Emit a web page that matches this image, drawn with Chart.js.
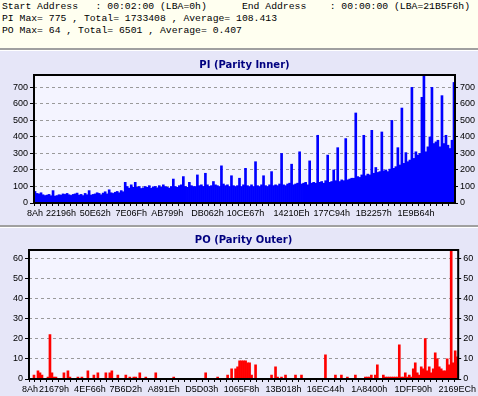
<!DOCTYPE html>
<html>
<head>
<meta charset="utf-8">
<script src="https://cdn.jsdelivr.net/npm/chart.js@4.4.1/dist/chart.umd.min.js"></script>
<style>
html, body { margin: 0; padding: 0; }
body { width: 478px; height: 396px; overflow: hidden; background: #E6E6F8; position: relative; }
#info { position: absolute; left: 0; top: 0; width: 478px; height: 48px; background: #FFFFF0; }
#info pre { margin: 0; position: absolute; left: 2px; top: 1px; font-family: "Liberation Mono", monospace; font-size: 9.75px; line-height: 12px; color: #000; }
.sep { position: absolute; left: 0; width: 478px; height: 2px; background: #A0A0A0; border-bottom: 1px solid #FFFFFF; }
canvas { position: absolute; left: 0; }
</style>
</head>
<body>
<div id="info"><pre>Start Address   : 00:02:00 (LBA=0h)      End Address    : 00:00:00 (LBA=21B5F6h)
PI Max= 775 , Total= 1733408 , Average= 108.413
PO Max= 64 , Total= 6501 , Average= 0.407</pre></div>
<div class="sep" style="top:48px"></div>
<canvas id="piChart" width="478" height="173" style="top:51px"></canvas>
<div class="sep" style="top:225px"></div>
<canvas id="poChart" width="478" height="168" style="top:228px"></canvas>
<script>
// PI error counts, one bar per sample block
var piValues = [
    70, 58, 55, 62, 50, 45, 48, 52, 44, 75,
    42, 45, 50, 48, 55, 52, 58, 50, 46, 52,
    55, 60, 48, 52, 45, 58, 50, 75, 48, 52,
    55, 62, 58, 50, 60, 68, 55, 80, 62, 58,
    65, 70, 62, 75, 68, 125, 100, 90, 110, 95,
    125, 95, 100, 88, 92, 100, 95, 105, 90, 98,
    100, 92, 105, 95, 110, 100, 95, 90, 100, 145,
    100, 95, 105, 110, 160, 100, 95, 125, 105, 100,
    100, 170, 105, 110, 100, 180, 110, 100, 105, 130,
    110, 105, 100, 225, 115, 105, 110, 100, 165, 105,
    100, 105, 150, 100, 110, 210, 105, 100, 110, 100,
    250, 105, 100, 110, 165, 105, 100, 110, 190, 105,
    110, 105, 115, 300, 110, 105, 115, 120, 235, 110,
    115, 120, 310, 115, 120, 125, 110, 255, 120, 125,
    120, 410, 125, 130, 120, 135, 290, 125, 130, 200,
    135, 335, 130, 140, 135, 390, 140, 145, 150, 150,
    545, 160, 155, 170, 410, 165, 175, 170, 440, 180,
    215, 185, 190, 430, 195, 200, 190, 205, 500, 210,
    220, 335, 230, 575, 240, 305, 250, 260, 700, 270,
    310, 290, 300, 640, 775, 310, 340, 400, 700, 360,
    370, 380, 340, 650, 360, 410, 350, 330, 380, 730
];
var piTickLabels = ['8Ah', '22196h', '50E62h', '7E06Fh', 'AB799h', 'DB062h', '10CE67h', '14210Eh', '177C94h', '1B2257h', '1E9B64h'];
var piTickIdx = [0, 13, 30, 48, 66, 86, 105, 128, 148, 169, 190];

// PO error counts
var poValues = [
    0, 0, 2, 0, 4, 3, 2, 0, 0, 1,
    22, 3, 1, 1, 0, 0, 0, 3, 0, 4,
    1, 0, 0, 0, 1, 0, 1, 0, 0, 4,
    0, 0, 2, 0, 3, 0, 0, 0, 3, 0,
    3, 4, 0, 0, 2, 0, 0, 0, 2, 0,
    1, 0, 1, 1, 0, 3, 0, 0, 1, 0,
    0, 0, 0, 3, 0, 0, 0, 0, 0, 0,
    0, 0, 1, 0, 0, 0, 0, 0, 0, 0,
    0, 0, 0, 0, 0, 0, 0, 0, 3, 0,
    0, 0, 0, 0, 1, 0, 0, 0, 0, 2,
    0, 5, 0, 5, 6, 9, 9, 9, 9, 8,
    8, 2, 0, 7, 0, 0, 0, 0, 0, 0,
    0, 2, 0, 6, 1, 0, 1, 0, 2, 0,
    0, 0, 0, 2, 0, 0, 2, 0, 0, 0,
    0, 0, 0, 0, 0, 0, 0, 0, 12, 0,
    0, 0, 0, 2, 0, 0, 2, 0, 0, 1,
    0, 0, 0, 2, 0, 0, 0, 0, 1, 1,
    1, 2, 0, 2, 7, 0, 0, 2, 1, 1,
    1, 1, 1, 1, 1, 17, 1, 1, 3, 1,
    2, 1, 5, 8, 3, 2, 6, 5, 20, 4,
    6, 3, 5, 13, 10, 6, 5, 4, 4, 10,
    7, 64, 8, 14, 11
];
var poTickLabels = ['8Ah', '21679h', '4EF66h', '7B6D2h', 'A891Eh', 'D5D03h', '1065F8h', '13B018h', '16EC44h', '1A8400h', '1DFF90h', '2169ECh'];
var poTickIdx = [0, 12, 30, 48, 67, 86, 106, 127, 148, 170, 192, 214];

Chart.defaults.font.family = '"Liberation Sans", Arial, sans-serif';
Chart.defaults.font.size = 9;
Chart.defaults.color = '#000';

// plot background + black frame round the chart area
const framePlugin = {
    id: 'frame',
    beforeDraw(chart) {
        const a = chart.chartArea, c = chart.ctx;
        c.save();
        c.fillStyle = '#F4F4FF';
        c.fillRect(a.left, a.top, a.right - a.left, a.bottom - a.top);
        c.restore();
    },
    afterDatasetsDraw(chart) {
        const a = chart.chartArea, c = chart.ctx;
        c.save();
        c.strokeStyle = '#000';
        c.lineWidth = 2;
        c.strokeRect(a.left, a.top, a.right - a.left, a.bottom - a.top);
        c.restore();
    }
};

function makeChart(id, values, tickLabels, tickIdx, color, title, yMax, yStep, box) {
    const labels = values.map(function () { return ''; });
    tickIdx.forEach(function (k, j) { labels[k] = tickLabels[j]; });

    return new Chart(id, {
        type: 'bar',
        data: {
            labels: labels,
            datasets: [{
                data: values,
                backgroundColor: color,
                borderWidth: 0,
                barPercentage: 1,
                categoryPercentage: 1,
                yAxisID: 'y'
            }]
        },
        options: {
            responsive: false,
            animation: false,
            plugins: {
                legend: { display: false },
                tooltip: { enabled: false },
                title: {
                    display: true,
                    text: title,
                    fullSize: false,
                    color: '#000080',
                    font: { family: '"DejaVu Sans", Verdana, sans-serif', size: 10, weight: 'bold', lineHeight: 1.2 },
                    padding: { top: box.titleTop, bottom: box.titleBottom }
                }
            },
            scales: {
                x: {
                    afterFit: function (s) { s.height = box.xHeight; },
                    grid: {
                        drawOnChartArea: false,
                        tickLength: 3,
                        tickColor: function (c) { return c.index % 3 === 0 ? '#000' : 'rgba(0,0,0,0)'; }
                    },
                    border: { display: false },
                    ticks: { autoSkip: false, maxRotation: 0, minRotation: 0, padding: 2 }
                },
                y: {
                    position: 'left',
                    min: 0,
                    max: yMax,
                    afterFit: function (s) { s.width = box.left; },
                    grid: {
                        color: function (c) { return c.tick && c.tick.value === 0 ? 'rgba(0,0,0,0)' : '#9A9A9A'; },
                        tickColor: '#000',
                        tickLength: 4
                    },
                    border: { display: false, dash: [3, 3] },
                    ticks: { stepSize: yStep, includeBounds: false, padding: 2 }
                },
                y2: {
                    position: 'right',
                    min: 0,
                    max: yMax,
                    afterFit: function (s) { s.width = box.right; },
                    grid: { drawOnChartArea: false, tickColor: '#000', tickLength: 3 },
                    border: { display: false },
                    ticks: { stepSize: yStep, includeBounds: false, padding: 2 }
                }
            }
        },
        plugins: [framePlugin]
    });
}

makeChart('piChart', piValues, piTickLabels, piTickIdx, '#0000FF', 'PI (Parity Inner)', 775, 100,
    { left: 34, right: 23, xHeight: 21, titleTop: 8, titleBottom: 4 });
makeChart('poChart', poValues, poTickLabels, poTickIdx, '#FF0000', 'PO (Parity Outer)', 64, 10,
    { left: 29, right: 19, xHeight: 17, titleTop: 6, titleBottom: 4 });
</script>
</body>
</html>
